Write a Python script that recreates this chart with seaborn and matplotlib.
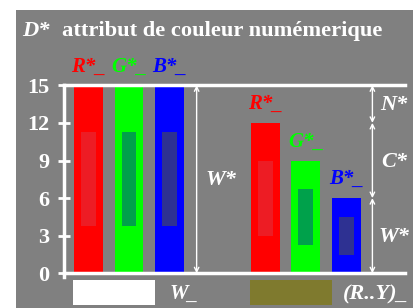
import matplotlib
matplotlib.use("Agg")
import matplotlib.pyplot as plt
import seaborn as sns
import pandas as pd
from matplotlib.patches import Rectangle

# ---- data ----
bar_ids = ["R1", "G1", "B1", "R2", "G2", "B2"]
bar_labels = ["R*_", "G*_", "B*_", "R*_", "G*_", "B*_"]
positions = [0, 1, 2, 4.37, 5.37, 6.37]
values = [15, 15, 15, 12, 9, 6]
inner_lo = [3.75, 3.75, 3.75, 3, 2.25, 1.5]
inner_hi = [11.25, 11.25, 11.25, 9, 6.75, 4.5]
outer_colors = ["#FF0000", "#00FF00", "#0000FF", "#FF0000", "#00FF00", "#0000FF"]
inner_colors = ["#ED1C24", "#00A14B", "#2E3192", "#ED1C24", "#00A14B", "#2E3192"]
yticks = [0, 3, 6, 9, 12, 15]
seg_bounds = [15, 12, 6, 0]
seg_labels = ["N*", "C*", "W*"]

W, H = 413, 308
SERIF = ["Liberation Serif", "DejaVu Serif"]
GRAY = "#808080"

sns.set_theme(style="white")
plt.rcParams["font.family"] = SERIF

fig = plt.figure(figsize=(W / 100, H / 100), dpi=100, facecolor="white")
fig.add_artist(Rectangle((16 / W, 0), 1, (H - 10) / H, transform=fig.transFigure,
                         facecolor=GRAY, edgecolor="none", zorder=-1))

def px(x, y):
    return x / W, 1 - y / H

ax = fig.add_axes([64 / W, (H - 273.3) / H, (405 - 64) / W, (273.3 - 85.3) / H])
ax.set_facecolor("none")

df = pd.DataFrame({"id": bar_ids, "pos": positions, "val": values,
                   "lo": inner_lo, "hi": inner_hi})
outer_pal = dict(zip(bar_ids, outer_colors))
inner_pal = dict(zip(bar_ids, inner_colors))

sns.barplot(data=df, x="pos", y="val", hue="id", palette=outer_pal, dodge=False,
            native_scale=True, width=0.716, legend=False, saturation=1,
            edgecolor="none", linewidth=0, ax=ax)
sns.barplot(data=df, x="pos", y="hi", hue="id", palette=inner_pal, dodge=False,
            native_scale=True, width=0.37, legend=False, saturation=1,
            edgecolor="none", linewidth=0, ax=ax)
sns.barplot(data=df, x="pos", y="lo", hue="id", palette=outer_pal, dodge=False,
            native_scale=True, width=0.37, legend=False, saturation=1,
            edgecolor="none", linewidth=0, ax=ax)

ax.set_xlim(-0.605, 7.815)
ax.set_ylim(0, 15)
ax.set_xlabel("")
ax.set_ylabel("")
ax.set_xticks([])
ax.set_yticks(yticks)
ax.set_yticklabels([str(t) for t in yticks], fontweight="bold", fontsize=16,
                   color="white", family=SERIF)
ax.tick_params(axis="y", direction="inout", length=9, width=2, color="white",
               pad=6, left=True)
for s in ["top", "bottom", "left"]:
    ax.spines[s].set_color("white")
    ax.spines[s].set_linewidth(2.5)
    ax.spines[s].set_visible(True)
ax.spines["right"].set_visible(False)
ax.spines["left"].set_bounds(-0.3, 15)

# arrows
arrow_kw = dict(arrowstyle="<->", color="white", lw=1, shrinkA=0, shrinkB=0,
                mutation_scale=8)
ax.annotate("", xy=(2.67, 0), xytext=(2.67, 15), arrowprops=arrow_kw,
            annotation_clip=False)
ax.text(3.27, 7.45, "W*", ha="center", va="center", color="white",
        fontsize=16, fontweight="bold", fontstyle="italic")
for i, lab in enumerate(seg_labels):
    a, b = seg_bounds[i], seg_bounds[i + 1]
    ax.annotate("", xy=(7.01, b), xytext=(7.01, a), arrowprops=arrow_kw,
                annotation_clip=False)
    ax.text(7.54, (a + b) / 2 - 0.1, lab, ha="center", va="center", color="white",
            fontsize=16, fontweight="bold", fontstyle="italic", clip_on=False)

# bar labels
for i in range(3):
    ax.text(positions[i], 16.45, bar_labels[i], ha="center", va="center",
            color=outer_colors[i], fontsize=15, fontweight="bold",
            fontstyle="italic", clip_on=False)
for i in range(3, 6):
    ax.text(positions[i], values[i] + 1.5, bar_labels[i], ha="center", va="center",
            color=outer_colors[i], fontsize=15, fontweight="bold",
            fontstyle="italic", clip_on=False)

# title
fig.text(*px(22, 31), "D*", ha="left", va="center", color="white", fontsize=16.2,
         fontweight="bold", fontstyle="italic")
fig.text(*px(62, 31), "attribut de couleur numémerique", ha="left", va="center",
         color="white", fontsize=16.2, fontweight="bold")

# bottom swatches
fig.add_artist(Rectangle(px(73, 305), 82 / W, 25 / H, transform=fig.transFigure,
                         facecolor="white", edgecolor="none"))
fig.add_artist(Rectangle(px(250, 305), 82 / W, 25 / H, transform=fig.transFigure,
                         facecolor="#7F7A2E", edgecolor="none"))
fig.text(*px(170, 294), "W_", ha="left", va="center", color="white", fontsize=15,
         fontweight="bold", fontstyle="italic")
fig.text(*px(343, 294), "(R..Y)_", ha="left", va="center", color="white",
         fontsize=16, fontweight="bold", fontstyle="italic")

fig.savefig("out.png", dpi=100, facecolor="white")
